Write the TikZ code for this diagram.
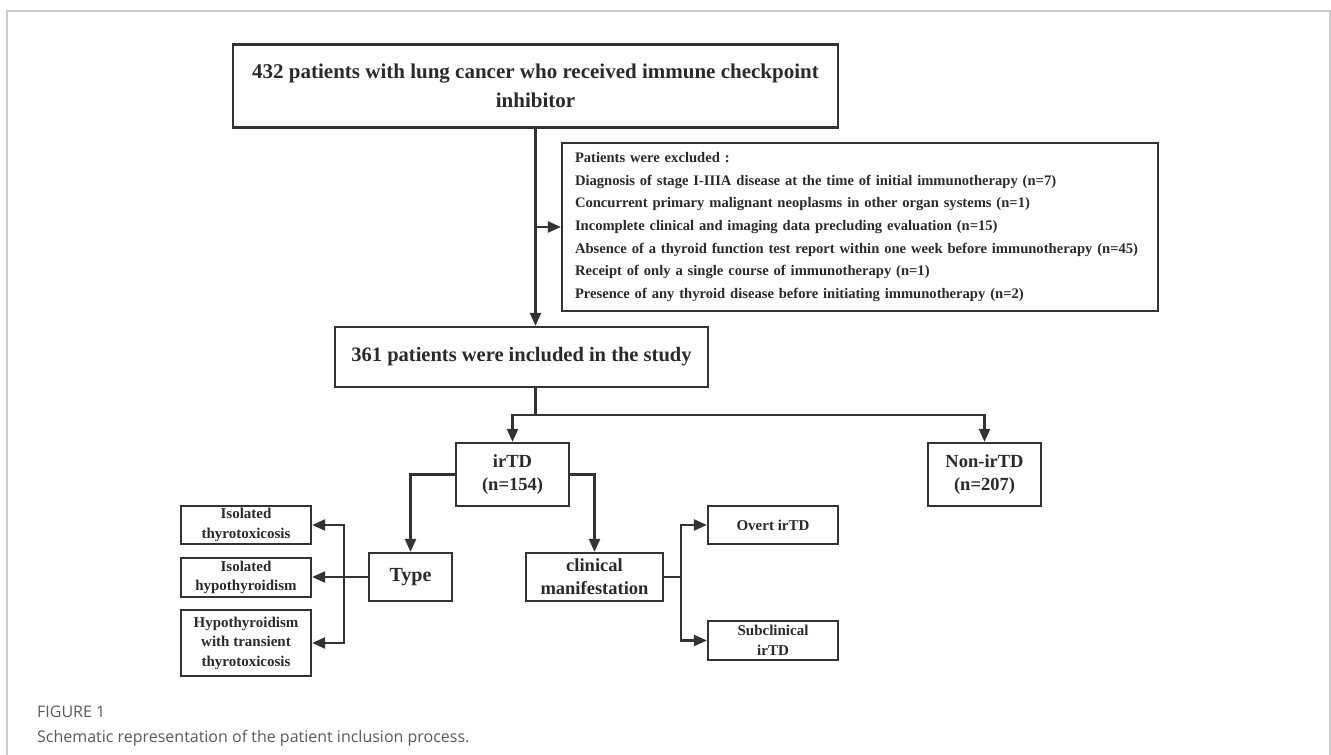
\documentclass[tikz,border=0pt]{standalone}
\usepackage{fontspec}
\setmainfont{Liberation Serif}
\newfontfamily\capfont{Open Sans}
\usetikzlibrary{arrows.meta,calc}
\definecolor{ln}{HTML}{333333}
\definecolor{tx}{HTML}{2A2A2A}
\definecolor{cap}{HTML}{5A5A5A}
\definecolor{frm}{HTML}{CCCCCC}
\begin{document}
\begin{tikzpicture}[x=1pt,y=-1pt,
  box/.style={draw=ln,line width=2.2pt,text=tx,inner sep=0pt,align=center},
  arr/.style={draw=ln,line width=2.2pt,-{Triangle[length=13pt,width=11pt]}},
  con/.style={draw=ln,line width=2.2pt},
  mid/.style={font=\fontsize{18.5}{23}\selectfont\bfseries},
  sml/.style={font=\fontsize{15}{19.5}\selectfont\bfseries}]
\useasboundingbox (0,0) rectangle (1331,755);
\draw[frm,line width=1.5pt] (7,755) -- (7,11) -- (1330,11) -- (1330,755);

\node[box,minimum width=605pt,minimum height=83pt,font=\fontsize{21}{29}\selectfont\bfseries] (top) at (535.5,86)
  {432 patients with lung cancer who received immune checkpoint\\inhibitor};
\node[box,minimum width=596pt,minimum height=168pt,inner xsep=13pt,text width=570pt,align=left,font=\fontsize{14.6}{22.6}\selectfont\bfseries] (excl) at (860,227)
  {Patients were excluded :\\
   Diagnosis of stage I-IIIA disease at the time of initial immunotherapy (n=7)\\
   Concurrent primary malignant neoplasms in other organ systems (n=1)\\
   Incomplete clinical and imaging data precluding evaluation (n=15)\\
   Absence of a thyroid function test report within one week before immunotherapy (n=45)\\
   Receipt of only a single course of immunotherapy (n=1)\\
   Presence of any thyroid disease before initiating immunotherapy (n=2)};
\node[box,minimum width=373pt,minimum height=60pt,font=\fontsize{20.5}{24}\selectfont\bfseries] (incl) at (521.5,357) {361 patients were included in the study};
\node[box,mid,minimum width=113pt,minimum height=63pt] (irtd) at (512.5,474.5) {irTD\\(n=154)};
\node[box,mid,minimum width=113pt,minimum height=63pt] (non) at (984.5,474.5) {Non-irTD\\(n=207)};
\node[box,minimum width=83pt,minimum height=48pt,font=\fontsize{20}{23}\selectfont\bfseries] (type) at (410.5,577) {Type};
\node[box,mid,minimum width=137pt,minimum height=48pt] (clin) at (594.5,577) {clinical\\manifestation};
\node[box,sml,minimum width=130pt,minimum height=38pt] (overt) at (773,525) {Overt irTD};
\node[box,sml,minimum width=130pt,minimum height=39pt] (sub) at (773,640.5) {Subclinical\\irTD};
\node[box,sml,minimum width=130pt,minimum height=38pt] (iso1) at (246,525) {Isolated\\thyrotoxicosis};
\node[box,sml,minimum width=130pt,minimum height=39pt] (iso2) at (246,577.5) {Isolated\\hypothyroidism};
\node[box,sml,minimum width=130pt,minimum height=66pt] (hypo) at (246,643) {Hypothyroidism\\with transient\\thyrotoxicosis};

\coordinate (split) at (535.5,415);
\coordinate (cb) at (681,577);
\coordinate (tb) at (344,577);

\draw[arr] (top.south) -- (top.south |- incl.north);
\draw[arr] (top.south |- excl.west) -- (excl.west);
\draw[con] (top.south |- incl.south) -- (split);
\draw[arr] (split) -| (irtd.north);
\draw[arr] (split) -| (non.north);
\draw[arr] (irtd.west) -| (type.north);
\draw[arr] (irtd.east) -| (clin.north);
\draw[con] (clin.east) -- (cb);
\draw[arr] (cb) |- (overt.west);
\draw[arr] (cb) |- (sub.west);
\draw[arr] (type.west) -- (type.west -| iso2.east);
\draw[arr] (tb) |- (iso1.east);
\draw[arr] (tb) |- (hypo.east);

\node[anchor=base west,text=cap,inner sep=0pt,font=\capfont\fontsize{16}{18}\selectfont] (fig) at (37,717) {FIGURE 1};
\node[anchor=base west,text=cap,inner sep=0pt,font=\capfont\fontsize{16}{18}\selectfont] (capt) at (37,742) {Schematic representation of the patient inclusion process.};
\end{tikzpicture}
\end{document}
